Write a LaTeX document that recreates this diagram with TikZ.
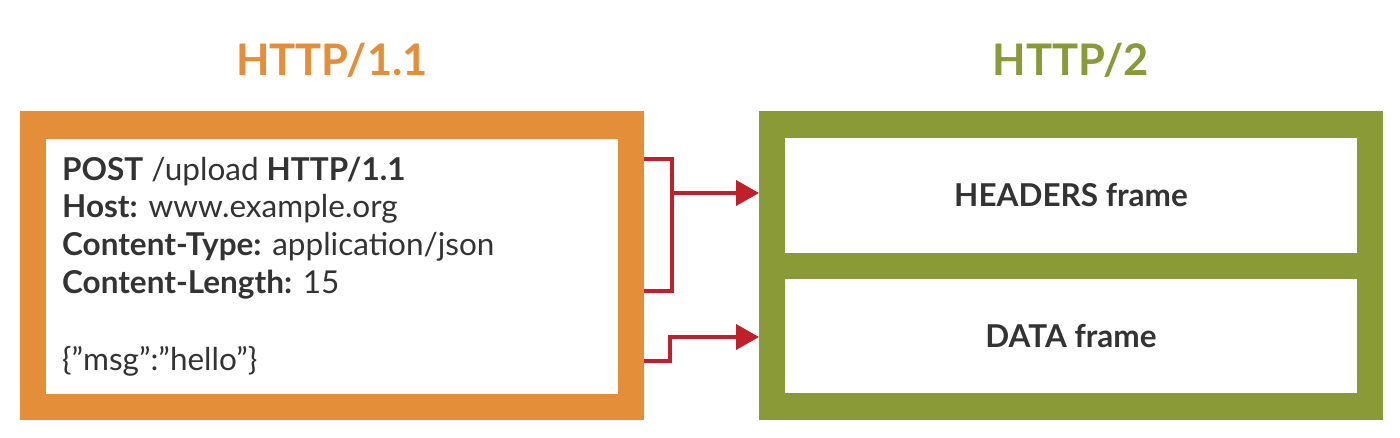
\documentclass[tikz,border=0pt]{standalone}
\usepackage{fontspec}
\setmainfont{Lato}
\usetikzlibrary{arrows.meta}
\definecolor{orng}{HTML}{E58E3A}
\definecolor{olive}{HTML}{8A9A37}
\definecolor{redc}{HTML}{C0202A}
\definecolor{txt}{HTML}{333333}
\begin{document}
\begin{tikzpicture}[x=1pt,y=-1pt,
  title/.style={font=\fontsize{43.5}{50}\selectfont\bfseries, anchor=base},
  body/.style={font=\fontsize{31.5}{37}\selectfont, text=txt, anchor=base west, inner sep=0pt},
  frametext/.style={font=\fontsize{31.5}{36}\selectfont\bfseries, text=txt},
  box/.style={rectangle, inner sep=0pt, outer sep=0pt},
  conn/.style={draw=redc, line width=4pt},
  arr/.style={conn, -{Triangle[length=23pt,width=25pt]}}
]
\useasboundingbox (0,0) rectangle (1400,437);
\fill[white] (0,0) rectangle (1400,437);
% titles
\node[title, text=orng] (t1) at (332,75) {HTTP/1.1};
\node[title, text=olive] (t2) at (1071,75) {HTTP/2};
% left box
\node[box, fill=orng, minimum width=624pt, minimum height=309pt] (L) at (332,265.5) {};
\node[box, fill=white, minimum width=572pt, minimum height=255pt] (Li) at (332,266.5) {};
\node[body] (l1) at (62,180) {\textbf{POST} /upload \textbf{HTTP/1.1}};
\node[body] (l2) at (62,217) {\textbf{Host:} www.example.org};
\node[body] (l3) at (62,255) {\textbf{Content-Type:} application/json};
\node[body] (l4) at (62,293) {\textbf{Content-Length:} 15};
\node[body] (l5) at (62,370) {\{”msg”:”hello”\}};
% right box
\node[box, fill=olive, minimum width=624pt, minimum height=309pt] (R) at (1071,265.5) {};
\node[box, fill=white, minimum width=572pt, minimum height=115pt] (H) at (1071,195.5) {};
\node[box, fill=white, minimum width=572pt, minimum height=114pt] (D) at (1071,336) {};
\node[frametext] (ht) at (H) {HEADERS frame};
\node[frametext] (dt) at (D) {DATA frame};
% connectors
\coordinate (a1) at (L.east |- 0,159);
\coordinate (a2) at (L.east |- 0,291);
\coordinate (b1) at (L.east |- 0,361);
\coordinate (ja) at (672,193);
\coordinate (jb) at (670,337);
\draw[conn] (a1) -| (672,291) -- (a2);
\draw[arr] (ja) -- (R.west |- ja);
\draw[arr] (b1) -| (jb) -- (R.west |- jb);
\end{tikzpicture}
\end{document}
